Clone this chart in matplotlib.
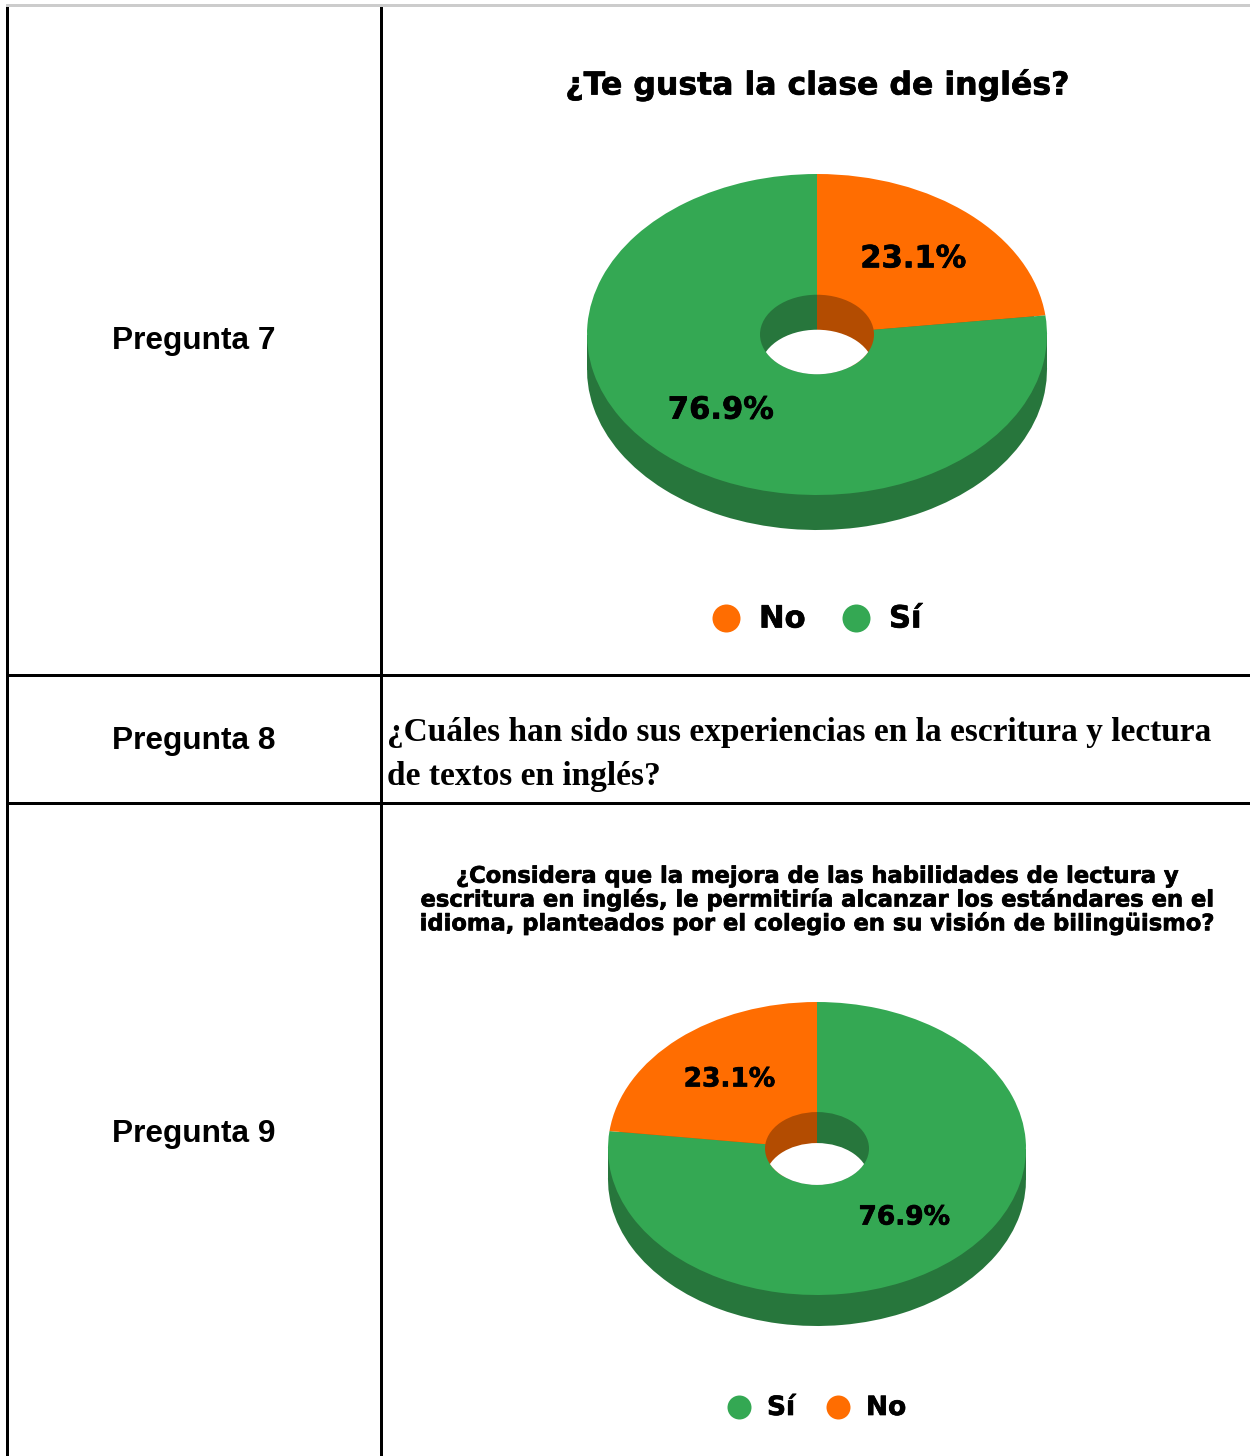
import matplotlib
matplotlib.use('Agg')
import matplotlib.pyplot as plt
import matplotlib.patheffects as pe
from matplotlib.patches import Ellipse, Rectangle

W, H = 1250, 1456

# Chart data
labels_7 = ['No', 'Sí']
values_7 = [23.1, 76.9]
labels_9 = ['Sí', 'No']
values_9 = [76.9, 23.1]

title_7 = '¿Te gusta la clase de inglés?'
title_9 = ('¿Considera que la mejora de las habilidades de lectura y\n'
           'escritura en inglés, le permitiría alcanzar los estándares en el\n'
           'idioma, planteados por el colegio en su visión de bilingüismo?')
question_8 = ['¿Cuáles han sido sus experiencias en la escritura y lectura',
              'de textos en inglés?']
row_names = ['Pregunta 7', 'Pregunta 8', 'Pregunta 9']

GREEN, GREEN_D = '#34a853', '#27763c'
ORANGE, ORANGE_D = '#ff6d01', '#b34c01'
top_col = {'No': ORANGE, 'Sí': GREEN}
dark_col = {'No': ORANGE_D, 'Sí': GREEN_D}

# chart text is a bit heavier than plain bold
heavy = [pe.withStroke(linewidth=0.5, foreground='black')]


def donut3d(fig, labels, values, cx, cy, rx, ry, depth, hx, fs):
    # pie in its own axes, stretched flat to look tilted
    pad = 1.02
    d = depth / ry
    r = hx / rx
    left = cx - rx * pad
    top = cy - ry * pad
    bottom = cy + ry * pad + depth
    ax = fig.add_axes([left / W, 1 - bottom / H, 2 * rx * pad / W, (bottom - top) / H])
    tops = [top_col[l] for l in labels]
    darks = [dark_col[l] for l in labels]
    kw = dict(startangle=90, counterclock=False)

    # side of the ring
    ax.pie(values, colors=darks, center=(0, -d), **kw)
    ax.add_patch(Rectangle((-1, -d), 2, d, color=GREEN_D, lw=0))

    # top face
    _, _, pct = ax.pie(values, colors=tops, autopct='%.1f%%', pctdistance=0.63, **kw)
    for t in pct:
        t.set(fontsize=fs, fontweight='bold', color='black', family='DejaVu Sans',
              path_effects=heavy)

    # hole: inner wall seen from the lower rim, cut to the opening, then white floor
    hole = Ellipse((0, 0), 2 * r, 2 * r, fc='none', ec='none')
    ax.add_patch(hole)
    wall = ax.pie(values, colors=darks, radius=2 * r, center=(0, -d), **kw)[0]
    floor = Ellipse((0, -d), 2 * r, 2 * r, fc='white', ec='none')
    ax.add_patch(floor)

    ax.set_aspect('auto')
    ax.set_xlim(-pad, pad)
    ax.set_ylim(-pad - d, pad)
    ax.axis('off')

    # pie wedges come with clipping switched off
    for p in wall + [floor]:
        p.set_clip_on(True)
        p.set_clip_path(hole)


fig = plt.figure(figsize=(W / 100, H / 100), dpi=100)
bg = fig.add_axes([0, 0, 1, 1])
bg.set_xlim(0, W)
bg.set_ylim(H, 0)
bg.axis('off')

# table lines
bg.add_patch(Rectangle((6, 4), W - 6, 3, color='#cccccc', lw=0))
for x in [6, 380]:
    bg.add_patch(Rectangle((x, 7), 3, H - 7, color='black', lw=0))
for y in [674, 802]:
    bg.add_patch(Rectangle((6, y), W - 6, 3, color='black', lw=0))

for name, y in zip(row_names, [341, 741, 1134]):
    bg.text(112, y, name, fontsize=22.8, fontweight='bold', family='Liberation Sans',
            ha='left', va='center')

for line, y in zip(question_8, [733, 777]):
    bg.text(387, y, line, fontsize=24, fontweight='bold', family='Liberation Serif',
            ha='left', va='center')

bg.text(817, 85, title_7, fontsize=22.7, fontweight='bold', ha='center', va='center',
        path_effects=heavy)
bg.text(817, 900, title_9, fontsize=16.3, fontweight='bold', ha='center', va='center',
        linespacing=0.99, path_effects=heavy)

donut3d(fig, labels_7, values_7, 817, 334.5, 230, 160.5, 35, 57, 22)
donut3d(fig, labels_9, values_9, 817, 1148.5, 209, 146.5, 31, 52, 19)

# legends
for lab, mx, tx, y, ms, fs in [('No', 726, 759, 618, 28, 22), ('Sí', 856, 889, 618, 28, 22),
                               ('Sí', 739, 767, 1407, 24, 19), ('No', 838, 866, 1407, 24, 19)]:
    bg.plot(mx, y, 'o', ms=ms * 0.72, color=top_col[lab], mew=0)
    bg.text(tx, y + 1, lab, fontsize=fs, fontweight='bold', ha='left', va='center',
            path_effects=heavy)

fig.savefig('out.png', dpi=100)
